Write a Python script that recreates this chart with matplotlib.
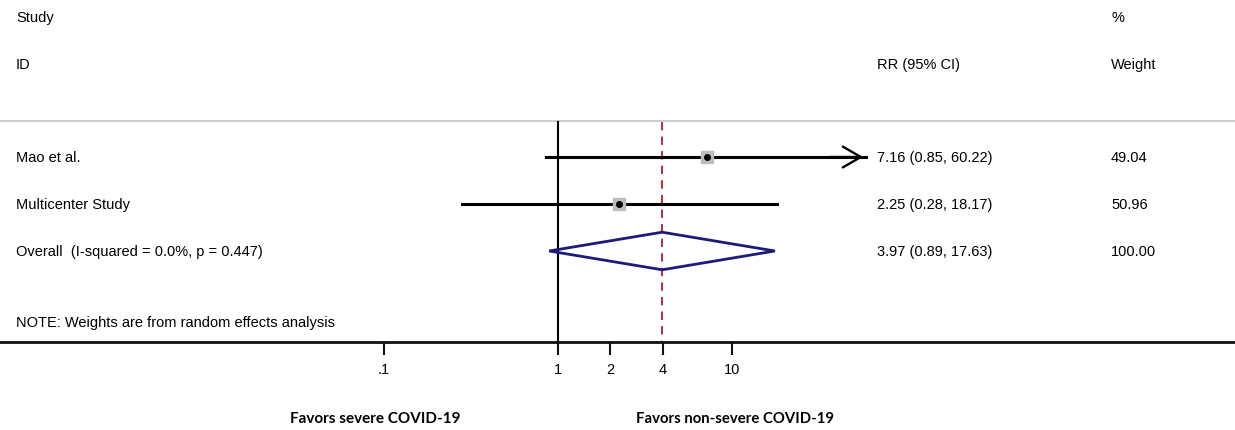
import matplotlib.pyplot as plt
from matplotlib.transforms import blended_transform_factory

# study data (risk ratios)
studies = ["Mao et al.", "Multicenter Study"]
rr = [7.16, 2.25]
ci_lo = [0.85, 0.28]
ci_hi = [60.22, 18.17]
weights = [49.04, 50.96]

overall_label = "Overall  (I-squared = 0.0%, p = 0.447)"
overall_rr = 3.97
overall_lo = 0.89
overall_hi = 17.63

ticks = [0.1, 1, 2, 4, 10]
tick_labels = [".1", "1", "2", "4", "10"]
x_limit = 58.9  # CI clipped with arrow beyond this

plt.rcParams['font.family'] = ['Liberation Sans', 'DejaVu Sans']

fig = plt.figure(figsize=(12.35, 4.31), dpi=100)
ax = fig.add_axes([0, 0, 1, 1])
ax.set_xscale('log')
ax.set_xlim(10 ** (-558 / 174), 10 ** (677 / 174))
ax.set_ylim(6.809, -2.362)

for s in ['top', 'left', 'right']:
    ax.spines[s].set_visible(False)
ax.spines['bottom'].set_position(('data', 4.94))
ax.spines['bottom'].set_linewidth(2)
ax.spines['bottom'].set_color('#111111')
ax.set_yticks([])
ax.set_xticks(ticks)
ax.set_xticklabels(tick_labels, fontsize=10.5)
ax.minorticks_off()
ax.tick_params(axis='x', direction='out', length=9.5, width=1.5, pad=5, color='#111111')

tr = blended_transform_factory(ax.transAxes, ax.transData)
fs = 10.5

# header
ax.text(0.013, -1.98, "Study", transform=tr, fontsize=fs, va='center')
ax.text(0.013, -0.98, "ID", transform=tr, fontsize=fs, va='center')
ax.text(0.7101, -0.98, "RR (95% CI)", transform=tr, fontsize=fs, va='center')
ax.text(0.8996, -1.98, "%", transform=tr, fontsize=fs, va='center')
ax.text(0.8996, -0.98, "Weight", transform=tr, fontsize=fs, va='center')
ax.axhline(0.234, color='#c4c4c4', lw=1.2)

# reference lines
ax.plot([1, 1], [0.26, 4.94], color='black', lw=1.5)
ax.plot([overall_rr, overall_rr], [0.26, 4.94], color='#a53a48', lw=1.5, dashes=(4, 3))

for i, name in enumerate(studies):
    y = i + 1
    hi = min(ci_hi[i], x_limit)
    ax.plot([ci_lo[i], hi], [y, y], color='black', lw=2.2)
    if ci_hi[i] > x_limit:
        ax.annotate("", xy=(hi, y), xytext=(hi * 0.6, y),
                    arrowprops=dict(arrowstyle='->,head_length=1.3,head_width=0.75', color='black', lw=1.7))
    ax.plot(rr[i], y, marker='s', ms=weights[i] / 6, color='#bdbdbd', mec='#bdbdbd', zorder=3)
    ax.plot(rr[i], y, marker='o', ms=4, color='black', zorder=4)
    ax.text(0.013, y, name, transform=tr, fontsize=fs, va='center')
    ax.text(0.7101, y, f"{rr[i]:.2f} ({ci_lo[i]:.2f}, {ci_hi[i]:.2f})", transform=tr, fontsize=fs, va='center')
    ax.text(0.8996, y, f"{weights[i]:.2f}", transform=tr, fontsize=fs, va='center')

# overall diamond
yo = 3
h = 0.4
ax.fill([overall_lo, overall_rr, overall_hi, overall_rr, overall_lo],
        [yo, yo - h, yo, yo + h, yo], facecolor='none', edgecolor='#1c1c78', lw=2, zorder=5)
ax.text(0.013, yo, overall_label, transform=tr, fontsize=fs, va='center')
ax.text(0.7101, yo, f"{overall_rr:.2f} ({overall_lo:.2f}, {overall_hi:.2f})", transform=tr, fontsize=fs, va='center')
ax.text(0.8996, yo, f"{sum(weights):.2f}", transform=tr, fontsize=fs, va='center')

ax.text(0.013, 4.51, "NOTE: Weights are from random effects analysis", transform=tr, fontsize=fs, va='center')

ax.text(0.3036, 6.55, "Favors severe COVID-19", transform=tr, fontsize=11, fontweight='bold',
        family=['Lato', 'DejaVu Sans'], ha='center', va='center')
ax.text(0.5955, 6.55, "Favors non-severe COVID-19", transform=tr, fontsize=10.7, fontweight='bold',
        family=['Lato', 'DejaVu Sans'], ha='center', va='center')

fig.savefig("out.png", dpi=100)
